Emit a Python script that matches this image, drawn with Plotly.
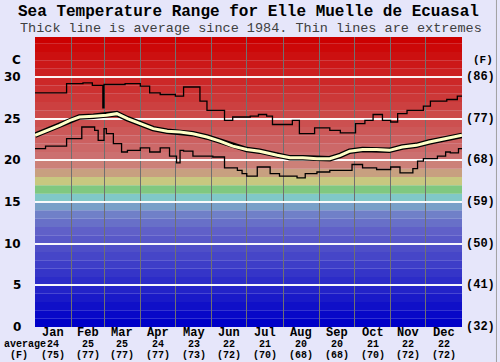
import plotly.graph_objects as go

TITLE = "Sea Temperature Range for Elle Muelle de Ecuasal"
SUBTITLE = "Thick line is average since 1984. Thin lines are extremes"

MONTHS = ["Jan", "Feb", "Mar", "Apr", "May", "Jun", "Jul", "Aug", "Sep", "Oct", "Nov", "Dec"]
MONTH_START = [0, 31, 59, 90, 120, 151, 181, 212, 243, 273, 304, 334, 365]
MONTH_AVG_C = [24, 25, 25, 24, 23, 22, 21, 20, 20, 21, 22, 22]
MONTH_AVG_F = [75, 77, 77, 77, 73, 72, 70, 68, 68, 70, 72, 72]

C_TICKS = [0, 5, 10, 15, 20, 25, 30]
F_TICKS = ["(32)", "(41)", "(50)", "(59)", "(68)", "(77)", "(86)"]

MAX_DAYS = [0, 27, 41, 49, 57, 58, 59, 77, 90, 98, 107, 120, 127, 141, 147, 162, 169, 184, 191, 198,
            203, 220, 226, 239, 252, 261, 274, 282, 289, 297, 304, 310, 318, 332, 338, 352, 361, 365]
MAX_C = [28.1, 29.2, 29.3, 29.0, 29.0, 26.3, 29.1, 29.2, 28.9, 28.1, 27.9, 27.7, 28.8, 27.1, 26.0, 24.8,
         25.2, 25.3, 25.5, 25.3, 24.3, 24.8, 23.2, 23.9, 23.6, 23.3, 24.4, 24.8, 25.5, 24.8, 24.6, 25.6,
         26.0, 26.5, 27.1, 27.3, 27.7, 27.7]

MIN_DAYS = [0, 9, 27, 40, 51, 54, 59, 61, 67, 74, 79, 90, 98, 107, 115, 121, 124, 127, 135, 152,
            162, 173, 177, 181, 190, 201, 209, 224, 231, 241, 252, 271, 280, 292, 304, 312, 323, 327,
            332, 344, 351, 355, 362, 365]
MIN_C = [21.4, 21.7, 22.6, 24.0, 23.6, 22.4, 23.8, 23.2, 22.0, 21.0, 21.2, 21.5, 21.0, 21.5, 20.5, 19.7,
         21.2, 21.1, 20.5, 20.4, 19.1, 18.8, 18.4, 18.1, 19.2, 18.4, 18.1, 17.9, 18.4, 18.6, 18.8, 19.5,
         19.1, 18.9, 19.2, 18.5, 19.0, 19.9, 20.2, 20.5, 21.0, 20.9, 21.4, 21.4]

AVG_DAYS = [0, 9, 17, 21, 30, 38, 50, 61, 70, 79, 90, 101, 113, 124, 135, 147, 158, 169, 181, 192,
            207, 218, 229, 241, 252, 261, 269, 280, 292, 303, 314, 326, 337, 348, 360, 365]
AVG_C = [23.0, 23.5, 24.0, 24.2, 24.8, 25.2, 25.3, 25.4, 25.6, 25.0, 24.4, 23.8, 23.5, 23.4, 23.2, 22.8,
         22.3, 21.7, 21.3, 21.1, 20.6, 20.3, 20.3, 20.2, 20.2, 20.6, 21.1, 21.3, 21.3, 21.2, 21.6, 21.8,
         22.2, 22.5, 22.9, 23.0]

# colour bands, one per degree C starting at 0
BAND_COLORS = ["#0000c8", "#0808c8", "#1010c8", "#1a1ac8", "#2323c8", "#2c2cc8", "#3535c8", "#3e3ec8",
               "#4646c8", "#4f4fc8", "#5858c8", "#6060c8", "#6870c8", "#7080c8", "#78a0c8", "#80c8c8",
               "#80c880", "#c8c880", "#c8a080", "#cc8078", "#cc7070", "#cc6868", "#cc6060", "#cc5858",
               "#cc5050", "#cc4848", "#cc4040", "#cc3838", "#cc3030", "#cc2828", "#cc2020", "#cc1818",
               "#cc1010", "#cc0808", "#cc0000"]
Y_TOP = 34.8

MONO = "Liberation Mono, Courier New, monospace"
SANS = "DejaVu Sans, Verdana, sans-serif"

fig = go.Figure()

shapes = []
for i, col in enumerate(BAND_COLORS):
    top = i + 1 if i < len(BAND_COLORS) - 1 else Y_TOP
    shapes.append(dict(type="rect", xref="x", yref="y", x0=0, x1=365, y0=i, y1=top,
                       fillcolor=col, line=dict(width=0), layer="below"))
shapes.append(dict(type="line", xref="paper", yref="paper", x0=1.0807, x1=1.0807, y0=-0.2, y1=1.2,
                   line=dict(color="#a0a0a0", width=1)))

fig.add_trace(go.Scatter(x=MAX_DAYS, y=MAX_C, mode="lines", line=dict(color="black", width=1.3, shape="hv"),
                         hoverinfo="skip", showlegend=False))
fig.add_trace(go.Scatter(x=MIN_DAYS, y=MIN_C, mode="lines", line=dict(color="black", width=1.3, shape="hv"),
                         hoverinfo="skip", showlegend=False))
fig.add_trace(go.Scatter(x=AVG_DAYS, y=AVG_C, mode="lines", line=dict(color="black", width=5.5),
                         hoverinfo="skip", showlegend=False))
fig.add_trace(go.Scatter(x=AVG_DAYS, y=AVG_C, mode="lines", line=dict(color="#ffffc8", width=3),
                         hoverinfo="skip", showlegend=False))

ann = []
ann.append(dict(text="<b>" + TITLE + "</b>", xref="paper", yref="paper", x=0.5, y=1, yshift=25,
                xanchor="center", yanchor="middle", showarrow=False, font=dict(family=MONO, size=16, color="black")))
ann.append(dict(text=SUBTITLE, xref="paper", yref="paper", x=0.5, y=1, yshift=9, xshift=2,
                xanchor="center", yanchor="middle", showarrow=False, font=dict(family=MONO, size=13.5, color="#404040")))

for i, m in enumerate(MONTHS):
    xc = (MONTH_START[i] + MONTH_START[i + 1]) / 2
    ann.append(dict(text="<b>" + m + "</b>", xref="x", yref="paper", x=xc, y=0, yshift=-5.5, yanchor="middle",
                    xanchor="center", showarrow=False, font=dict(family=MONO, size=12, color="black")))
    ann.append(dict(text="<b>" + str(MONTH_AVG_C[i]) + "</b>", xref="x", yref="paper", x=xc, y=0, yshift=-17.5,
                    yanchor="middle", xanchor="center", showarrow=False, font=dict(family=MONO, size=10, color="black")))
    ann.append(dict(text="<b>(" + str(MONTH_AVG_F[i]) + ")</b>", xref="x", yref="paper", x=xc, y=0, yshift=-28.5,
                    yanchor="middle", xanchor="center", showarrow=False, font=dict(family=MONO, size=10, color="black")))

ann.append(dict(text="<b>average</b>", xref="paper", yref="paper", x=0, xshift=-33, y=0, yshift=-17.5,
                xanchor="left", yanchor="middle", showarrow=False, font=dict(family=MONO, size=10, color="black")))
ann.append(dict(text="<b>(F)</b>", xref="paper", yref="paper", x=0, xshift=-5, y=0, yshift=-28.5,
                xanchor="right", yanchor="middle", showarrow=False, font=dict(family=MONO, size=10, color="black")))

for c, f in zip(C_TICKS, F_TICKS):
    ann.append(dict(text="<b>" + str(c) + "</b>", xref="paper", yref="y", x=0, xshift=-12, y=c,
                    xanchor="right", yanchor="middle", showarrow=False, font=dict(family=SANS, size=12, color="black")))
    ann.append(dict(text="<b>" + f + "</b>", xref="paper", yref="y", x=1, xshift=2, y=c,
                    xanchor="left", yanchor="middle", showarrow=False, font=dict(family=MONO, size=12, color="black")))
ann.append(dict(text="<b>C</b>", xref="paper", yref="y", x=0, xshift=-12, y=32.0,
                xanchor="right", yanchor="middle", showarrow=False, font=dict(family=SANS, size=12, color="black")))
ann.append(dict(text="<b>(F)</b>", xref="paper", yref="y", x=1, xshift=9, y=32.0,
                xanchor="left", yanchor="middle", showarrow=False, font=dict(family=MONO, size=11, color="black")))

fig.update_layout(
    width=500, height=362, autosize=False,
    margin=dict(l=35, r=37.5, t=37, b=35, pad=0),
    paper_bgcolor="#e6e6fa", plot_bgcolor="#e6e6fa",
    shapes=shapes, annotations=ann, showlegend=False,
    xaxis=dict(range=[0, 365], tickvals=MONTH_START[1:-1], showticklabels=False, showgrid=True,
               gridcolor="#707070", gridwidth=1, zeroline=False, showline=False, fixedrange=True),
    yaxis=dict(range=[0, Y_TOP], tickvals=C_TICKS[1:], showticklabels=False, showgrid=True,
               gridcolor="rgba(255,255,255,0.95)", gridwidth=2, zeroline=False, showline=False, fixedrange=True),
)

fig.write_html("out.html", config={"displayModeBar": False, "staticPlot": True},
               post_script="document.body.style.margin='0';document.body.style.padding='0';")
